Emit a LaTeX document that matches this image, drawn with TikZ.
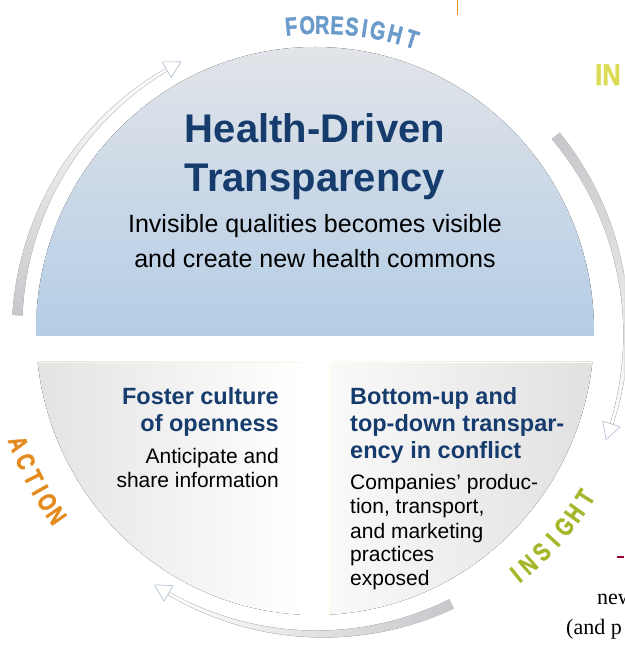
\documentclass[tikz,border=0pt]{standalone}
\usepackage{fontspec}
\setmainfont{Liberation Sans}
\newfontfamily\ringfont{Liberation Sans}[BoldFeatures={FakeBold=1.8}]
\newfontfamily\serifpart{Liberation Serif}
\usepackage{xcolor}
\usepackage{graphicx}
\usepackage{tikz}
\usetikzlibrary{calc}

\definecolor{navy}{HTML}{163C6E}
\definecolor{foresightblue}{HTML}{6B9BCB}
\definecolor{insightgreen}{HTML}{A6B62B}
\definecolor{actionorange}{HTML}{E38B1E}
\definecolor{inyellow}{HTML}{DCDB55}
\definecolor{skytop}{HTML}{E2E4E8}
\definecolor{skybottom}{HTML}{B4CDE6}
\definecolor{headline}{HTML}{AEBBD0}
\definecolor{bandgray}{HTML}{C6C7CA}

\begin{document}
\begin{tikzpicture}[x=1pt,y=1pt]
        \tikzstyle{title text}=[font=\fontsize{40}{49}\selectfont\bfseries, text=navy, align=center, inner sep=0pt];
        \tikzstyle{sub text}=[font=\fontsize{25}{35}\selectfont, align=center, inner sep=0pt];
        \tikzstyle{box head}=[font=\fontsize{23.5}{27}\selectfont\bfseries, text=navy, inner sep=0pt];
        \tikzstyle{box body}=[font=\fontsize{21}{24}\selectfont, inner sep=0pt];
        \tikzstyle{ring letter}=[font=\ringfont\fontsize{25.5}{25.5}\selectfont\bfseries, inner sep=0pt];
        \tikzstyle{arrow head}=[fill=white, draw=headline, line width=.6pt, line join=round];
        \tikzstyle{band}=[draw=black!18, line width=.4pt];

        % Define the frame of the page
        \path[use as bounding box, clip] (0,0) rectangle (624,645);
        \coordinate (C) at (315,314);
        \coordinate (R) at (320,314);

        % Draw the disc cut into three parts
        \begin{scope}
            \clip (C) ellipse [x radius=279, y radius=284];
            \fill[top color=skytop, bottom color=skybottom] (36,309) rectangle (594,599);
            \fill[left color=black!11, right color=white] (36,30) rectangle (300,283);
            \fill[left color=black!2, right color=black!12] (329,30) rectangle (594,283);
            \draw[orange!10, line width=.5pt] (36,283) -- (300,283);
            \draw[yellow!10, line width=.5pt] (329,30) -- (329,283) -- (594,283);
        \end{scope}

        % Draw the arrows around the disc
        \begin{scope}[shift={(R)}]
            \fill[band, top color=white, bottom color=bandgray]
                plot[domain=177:120.4, samples=60] (\x:{303+5-3.5*(177-\x)/56.6})
                -- plot[domain=120.4:177, samples=60] (\x:{303-5+3.5*(177-\x)/56.6}) -- cycle;
            \filldraw[arrow head] (120.4:294) -- (117.3:303) -- (120.4:312) -- cycle;

            \fill[band, top color=bandgray, bottom color=white]
                plot[domain=39.6:-17.7, samples=60] (\x:{306+5-3.5*(39.6-\x)/57.3})
                -- plot[domain=-17.7:39.6, samples=60] (\x:{306-5+3.5*(39.6-\x)/57.3}) -- cycle;
            \filldraw[arrow head] (-17.7:297) -- (-20.8:306) -- (-17.7:315) -- cycle;

            \fill[band, left color=white, right color=bandgray]
                plot[domain=-64.3:-120, samples=60] (\x:{303+5-3.5*(-64.3-\x)/55.7})
                -- plot[domain=-120:-64.3, samples=60] (\x:{303-5+3.5*(-64.3-\x)/55.7}) -- cycle;
            \filldraw[arrow head] (-120:294) -- (-123.1:303) -- (-120:312) -- cycle;

            % Letters along the ring
            \foreach \ch/\a [count=\i] in {F/95.4,O/92.4,R/89.6,E/86.8,S/84.0,I/81.6,G/79.1,H/75.8,T/72.5} {
                \node[ring letter, text=foresightblue, rotate=\a-90] (fore\i) at (\a:306) {\scalebox{.78}[1]{\ch}};
            }
            \foreach \ch/\a [count=\i] in {I/-51.2,N/-48.3,S/-44.9,I/-41.9,G/-38.7,H/-35.6,T/-32.1} {
                \node[ring letter, text=insightgreen, rotate=\a+90] (ins\i) at (\a:313) {\scalebox{.78}[1]{\ch}};
            }
            \foreach \ch/\a [count=\i] in {A/200.5,C/203.9,T/207.1,I/209.6,O/212.1,N/215.0} {
                \node[ring letter, text=actionorange, rotate=\a+90] (act\i) at (\a:322) {\scalebox{.78}[1]{\ch}};
            }
        \end{scope}

        % Texts of the disc
        \node[title text, anchor=base] (title) at (315,453) {Health-Driven\\Transparency};
        \node[sub text, anchor=base] (sub) at (315,377) {Invisible qualities becomes visible\\and create new health commons};
        \node[box head, align=right, anchor=base east] (fosterhead) at (279,213) {Foster culture\\of openness};
        \node[box body, align=right, anchor=base east] (fosterbody) at (279,157) {Anticipate and\\share information};
        \node[box head, align=left, anchor=base west] (bottomhead) at (350,186) {Bottom-up and\\top-down transpar-\\ency in conflict};
        \node[box body, align=left, anchor=base west] (bottombody) at (350,59) {Companies’ produc-\\tion, transport,\\and marketing\\practices\\exposed};

        % Pieces of the neighbouring page
        \node[font=\ringfont\fontsize{30}{30}\selectfont\bfseries, text=inyellow, inner sep=0pt, anchor=base west] (inword) at (595,560) {\scalebox{.85}[1]{IN}};
        \draw[actionorange, line width=1pt] (457,645) -- (457,630);
        \draw[purple!80!black, line width=1.6pt] (617,88) -- (624,88);
        \node[font=\serifpart\fontsize{22}{22}\selectfont, inner sep=0pt, anchor=base west] (newword) at (597,40) {new};
        \node[font=\serifpart\fontsize{22}{22}\selectfont, inner sep=0pt, anchor=base west] (andword) at (566,10) {(and p};
\end{tikzpicture}
\end{document}
